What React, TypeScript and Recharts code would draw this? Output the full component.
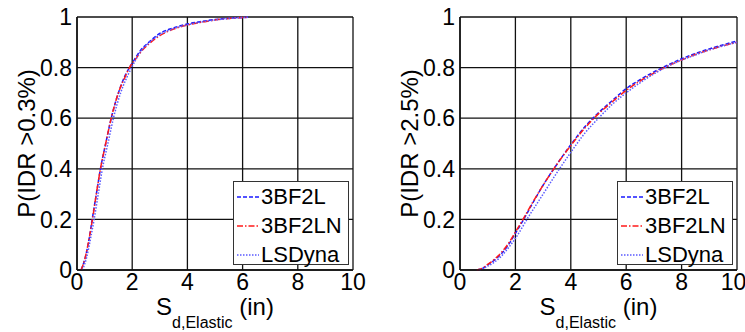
import React from 'react';
import { LineChart, Line, XAxis, YAxis, CartesianGrid, Legend } from 'recharts';

// left panel: P(IDR > 0.3%)
const lowL_x = [0.15, 0.3, 0.45, 0.55, 0.7, 0.85, 1.04, 1.24, 1.5, 1.75, 1.9, 2.1, 2.3, 2.6, 3.0, 3.5, 4.0, 4.5, 5.0, 5.5, 6.2];
const lowL_y = [0, 0.05, 0.13, 0.2, 0.3, 0.4, 0.5, 0.6, 0.7, 0.77, 0.8, 0.835, 0.868, 0.9, 0.935, 0.957, 0.972, 0.982, 0.99, 0.995, 0.999];
const lowLN_x = [0.15, 0.3, 0.45, 0.56, 0.7, 0.85, 1.04, 1.24, 1.5, 1.75, 1.9, 2.1, 2.3, 2.6, 3.0, 3.5, 4.0, 4.5, 5.0, 5.5, 6.2];
const lowLN_y = [0, 0.05, 0.13, 0.2, 0.3, 0.4, 0.5, 0.6, 0.7, 0.765, 0.8, 0.83, 0.86, 0.893, 0.926, 0.952, 0.968, 0.979, 0.988, 0.994, 0.999];
const lowLS_x = [0.2, 0.35, 0.5, 0.62, 0.77, 0.92, 1.12, 1.32, 1.58, 1.8, 1.98, 2.3, 2.6, 3.0, 3.5, 4.0, 4.5, 5.0, 5.5, 6.2];
const lowLS_y = [0, 0.05, 0.13, 0.2, 0.3, 0.4, 0.5, 0.6, 0.7, 0.76, 0.8, 0.862, 0.897, 0.93, 0.954, 0.969, 0.98, 0.988, 0.994, 0.999];

// right panel: P(IDR > 2.5%)
const highL_x = [0.6, 0.8, 1.0, 1.25, 1.5, 1.75, 2.0, 2.3, 2.6, 3.0, 3.45, 4.0, 4.5, 4.8, 5.5, 6.0, 6.5, 7.0, 7.5, 8.0, 8.5, 9.0, 9.5, 10];
const highL_y = [0, 0.005, 0.02, 0.04, 0.065, 0.1, 0.145, 0.2, 0.26, 0.335, 0.41, 0.495, 0.565, 0.6, 0.67, 0.717, 0.752, 0.783, 0.81, 0.835, 0.856, 0.874, 0.89, 0.905];
const highLN_x = [0.6, 0.8, 1.0, 1.25, 1.5, 1.75, 2.0, 2.3, 2.6, 3.0, 3.45, 4.0, 4.5, 4.8, 5.5, 6.0, 6.5, 7.0, 7.5, 8.0, 8.5, 9.0, 9.5, 10];
const highLN_y = [0, 0.006, 0.022, 0.043, 0.07, 0.105, 0.15, 0.205, 0.263, 0.335, 0.41, 0.492, 0.56, 0.596, 0.665, 0.71, 0.747, 0.778, 0.806, 0.83, 0.852, 0.87, 0.886, 0.9];
const highLS_x = [0.7, 1.0, 1.25, 1.5, 1.75, 2.0, 2.5, 3.0, 3.5, 4.0, 4.5, 5.0, 5.5, 6.0, 6.5, 7.0, 7.5, 8.0, 8.5, 9.0, 9.5, 10];
const highLS_y = [0, 0.015, 0.032, 0.055, 0.088, 0.125, 0.215, 0.3, 0.385, 0.465, 0.54, 0.6, 0.655, 0.7, 0.74, 0.775, 0.805, 0.83, 0.85, 0.87, 0.886, 0.9];

const xTicks = [0, 2, 4, 6, 8, 10];
const yTicks = [0, 0.2, 0.4, 0.6, 0.8, 1];

const seriesNames = ['3BF2L', '3BF2LN', 'LSDyna'];
const seriesColors = ['#1a1aff', '#ff1a1a', '#5a5aff'];
const seriesDash = ['4 2', '6 2 1.5 2', '1.5 1.5'];

const FONT = '"Liberation Sans", Arial, sans-serif';

const toPoints = (xs: number[], ys: number[]) => xs.map((x, i) => ({ x, y: ys[i] }));

const LegendBox = () => (
  <div
    style={{
      width: 116,
      height: 84,
      background: '#fff',
      border: '1px solid #333',
      fontFamily: FONT,
      fontSize: 22,
      color: '#000',
      boxSizing: 'border-box',
      paddingTop: 0,
    }}
  >
    {seriesNames.map((name, i) => (
      <div key={name} style={{ display: 'flex', alignItems: 'center', height: 29, lineHeight: '29px' }}>
        <svg width={26} height={10} style={{ marginLeft: 3, marginRight: 0 }}>
          <line x1={0} y1={5} x2={22} y2={5} stroke={seriesColors[i]} strokeWidth={1.5} strokeDasharray={seriesDash[i]} />
        </svg>
        <span style={{ marginLeft: -2 }}>{name}</span>
      </div>
    ))}
  </div>
);

const XLabel = ({ viewBox }: any) => {
  const cx = viewBox.x + viewBox.width / 2;
  const y = viewBox.y + 45;
  return (
    <text x={cx} y={y} textAnchor="middle" fontFamily={FONT} fill="#000">
      <tspan fontSize={24}>S</tspan>
      <tspan fontSize={16} dy={13}>d,Elastic</tspan>
      <tspan fontSize={24} dy={-13}> (in)</tspan>
    </text>
  );
};

function Panel({
  series,
  yLabel,
  width,
  yAxisWidth,
  rightMargin,
  yLabelX,
}: {
  series: { x: number; y: number }[][];
  yLabel: string;
  width: number;
  yAxisWidth: number;
  rightMargin: number;
  yLabelX: number;
}) {
  const plotTop = 17;
  const plotBottom = 270;
  return (
    <LineChart width={width} height={332} margin={{ top: plotTop, right: rightMargin, left: 0, bottom: 0 }}>
      <CartesianGrid stroke="#111" strokeWidth={1.3} horizontalValues={yTicks} verticalValues={xTicks} />
      <XAxis
        type="number"
        dataKey="x"
        domain={[0, 10]}
        ticks={xTicks}
        height={62}
        tickSize={0}
        tickMargin={4}
        axisLine={{ stroke: '#111', strokeWidth: 1.5 }}
        tick={{ fill: '#000', fontSize: 23, fontFamily: FONT }}
        allowDataOverflow
        label={<XLabel />}
      />
      <YAxis
        type="number"
        dataKey="y"
        domain={[0, 1]}
        ticks={yTicks}
        width={yAxisWidth}
        tickSize={0}
        tickMargin={5}
        axisLine={{ stroke: '#111', strokeWidth: 1.5 }}
        tick={{ fill: '#000', fontSize: 23, fontFamily: FONT }}
        tickFormatter={(v) => String(v)}
        label={{
          value: yLabel,
          angle: -90,
          position: 'insideLeft',
          content: () => (
            <text
              x={yLabelX}
              y={(plotTop + plotBottom) / 2}
              transform={`rotate(-90 ${yLabelX} ${(plotTop + plotBottom) / 2})`}
              textAnchor="middle"
              dominantBaseline="central"
              fontFamily={FONT}
              fontSize={24}
              fill="#000"
            >
              {yLabel}
            </text>
          ),
        }}
      />
      {series.map((pts, i) => (
        <Line
          key={seriesNames[i]}
          data={pts}
          dataKey="y"
          name={seriesNames[i]}
          type="monotone"
          stroke={seriesColors[i]}
          strokeWidth={1.5}
          strokeDasharray={seriesDash[i]}
          dot={false}
          isAnimationActive={false}
        />
      ))}
      <Legend
        layout="vertical"
        align="center"
        verticalAlign="middle"
        content={() => <LegendBox />}
        wrapperStyle={{ left: width - rightMargin - 120, top: 181, width: 116, height: 84 }}
      />
    </LineChart>
  );
}

export default function App() {
  const leftSeries = [toPoints(lowL_x, lowL_y), toPoints(lowLN_x, lowLN_y), toPoints(lowLS_x, lowLS_y)];
  const rightSeries = [toPoints(highL_x, highL_y), toPoints(highLN_x, highLN_y), toPoints(highLS_x, highLS_y)];
  return (
    <div style={{ position: 'absolute', left: 0, top: 0, width: 745, height: 332, background: '#fff', overflow: 'hidden' }}>
      <div style={{ position: 'absolute', left: 0, top: 0 }}>
        <Panel series={leftSeries} yLabel="P(IDR >0.3%)" width={370} yAxisWidth={77} rightMargin={17} yLabelX={26} />
      </div>
      <div style={{ position: 'absolute', left: 372, top: 0 }}>
        <Panel series={rightSeries} yLabel="P(IDR >2.5%)" width={373} yAxisWidth={88} rightMargin={8} yLabelX={37} />
      </div>
    </div>
  );
}
